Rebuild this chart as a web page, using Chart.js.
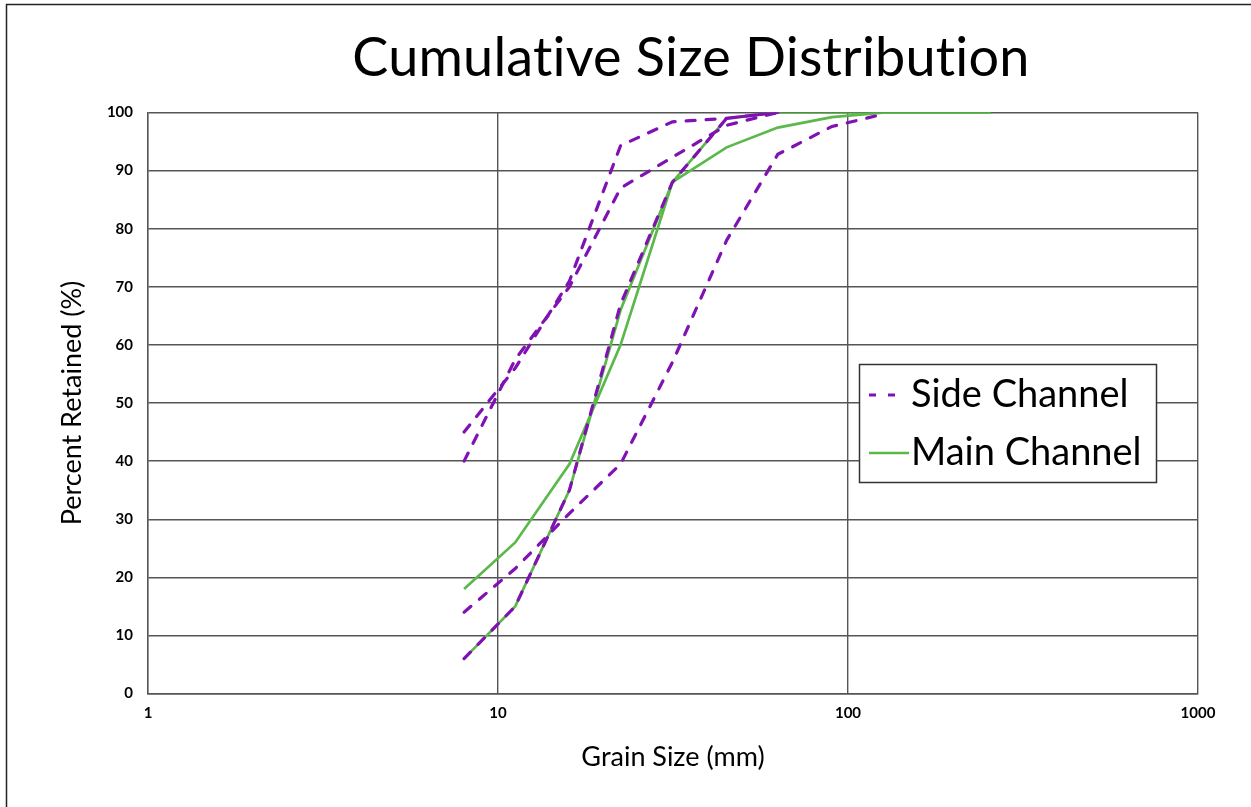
<!DOCTYPE html>
<html>
<head>
<meta charset="utf-8">
<script src="https://cdn.jsdelivr.net/npm/chart.js@4.4.1/dist/chart.umd.min.js"></script>
<style>
  html, body { margin: 0; padding: 0; background: #fff; }
  canvas { display: block; }
</style>
</head>
<body>
<canvas id="chart" width="1251" height="807"></canvas>
<script>
// grain sizes (mm) of the sieve classes
const grainSizes = [8, 11.2, 16, 22.4, 31.5, 45, 63, 90, 128, 180, 256];

// percent retained, side channel samples
const sideA = [45, 56, 71, 94.3, 98.4, 99, 100];
const sideB = [40, 57.5, 70, 87, 92.3, 97.8, 100];
const sideC = [14, 21.5, 31, 39.5, 57, 78, 92.8, 97.6, 99.8];
const sideD = [6, 15, 35, 67, 88, 99, 100];

// percent retained, main channel samples
const mainE = [6, 15, 35, 66, 88, 99, 100, 100, 100, 100, 100];
const mainF = [18, 26, 39.5, 60, 88, 94, 97.4, 99.2, 100, 100, 100];

const xTicks = [1, 10, 100, 1000];
const yTicks = [0, 10, 20, 30, 40, 50, 60, 70, 80, 90, 100];

const chartTitle = "Cumulative Size Distribution";

const SIDE_COLOR = "#8012b3";
const MAIN_COLOR = "#5bb94b";
const GRID_COLOR = "#555";
const FONT = "Lato, 'Open Sans', sans-serif";

const toPoints = (values) => values.map((v, i) => ({ x: grainSizes[i], y: v }));

const sideStyle = {
    borderColor: SIDE_COLOR,
    borderWidth: 3.2,
    borderDash: [9, 11],
    borderCapStyle: "round",
    pointRadius: 0,
    tension: 0,
    fill: false,
};
const mainStyle = {
    borderColor: MAIN_COLOR,
    borderWidth: 2.7,
    pointRadius: 0,
    tension: 0,
    fill: false,
};

const datasets = [
    { label: "Side Channel", data: toPoints(sideA), ...sideStyle },
    { label: "Side Channel", data: toPoints(sideB), ...sideStyle },
    { label: "Side Channel", data: toPoints(sideC), ...sideStyle },
    { label: "Side Channel", data: toPoints(sideD), ...sideStyle },
    { label: "Main Channel", data: toPoints(mainE), ...mainStyle },
    { label: "Main Channel", data: toPoints(mainF), ...mainStyle },
];

// white page, the frame on the left/top edges, and the title (centred over the plot, not the page)
const framePlugin = {
    id: "frame",
    beforeDraw(chart) {
        const ctx = chart.ctx;
        ctx.save();
        ctx.fillStyle = "#fff";
        ctx.fillRect(0, 0, chart.width, chart.height);
        ctx.strokeStyle = "#222";
        ctx.lineWidth = 1.5;
        ctx.beginPath();
        ctx.moveTo(6.5, chart.height + 5);
        ctx.lineTo(6.5, 4.5);
        ctx.lineTo(chart.width + 5, 4.5);
        ctx.stroke();
        ctx.restore();
    },
    afterDraw(chart) {
        const ctx = chart.ctx;
        ctx.save();
        ctx.fillStyle = "#000";
        ctx.font = "54px " + FONT;
        ctx.letterSpacing = "0.2px"; // also stops Lato's "ti" ligature
        ctx.textAlign = "center";
        ctx.textBaseline = "middle";
        ctx.fillText(chartTitle, 691, 59);
        ctx.restore();
    },
};

// boxed legend inside the plot, one entry per channel
const boxLegend = {
    id: "boxLegend",
    afterDraw(chart) {
        const ctx = chart.ctx;
        const entries = [
            { text: datasets[0].label, color: SIDE_COLOR, dash: [7, 12], width: 3, y: 395 },
            { text: datasets[4].label, color: MAIN_COLOR, dash: [], width: 2.6, y: 453 },
        ];
        ctx.save();
        ctx.fillStyle = "#fff";
        ctx.fillRect(859, 364, 298, 119);
        ctx.strokeStyle = "#333";
        ctx.lineWidth = 1.5;
        ctx.strokeRect(859.5, 364.5, 297, 118);
        entries.forEach((e) => {
            ctx.strokeStyle = e.color;
            ctx.lineWidth = e.width;
            ctx.setLineDash(e.dash);
            ctx.beginPath();
            ctx.moveTo(869, e.y);
            ctx.lineTo(e.dash.length ? 903 : 909, e.y);
            ctx.stroke();
            ctx.setLineDash([]);
            ctx.fillStyle = "#000";
            ctx.font = "38px " + FONT;
            ctx.textBaseline = "middle";
            ctx.textAlign = "left";
            ctx.fillText(e.text, 911, e.y);
        });
        ctx.restore();
    },
};

new Chart(document.getElementById("chart").getContext("2d"), {
    type: "line",
    data: { datasets },
    plugins: [framePlugin, boxLegend],
    options: {
        responsive: false,
        animation: false,
        layout: { padding: { left: 0, right: 53, top: 112.5, bottom: 0 } },
        plugins: {
            legend: { display: false },
            tooltip: { enabled: false },
            title: { display: false },
        },
        scales: {
            x: {
                type: "logarithmic",
                min: 1,
                max: 1000,
                afterBuildTicks: (scale) => {
                    scale.ticks = xTicks.map((v) => ({ value: v }));
                },
                afterFit: (scale) => {
                    scale.height = 113.5;
                },
                ticks: {
                    color: "#000",
                    font: { family: FONT, size: 15, weight: "bold" },
                    padding: 11,
                    maxRotation: 0,
                    autoSkip: false,
                    callback: (v) => String(v),
                },
                grid: { color: GRID_COLOR, lineWidth: 1.4, drawTicks: false },
                border: { color: GRID_COLOR, width: 1.4 },
                title: {
                    display: true,
                    text: "Grain Size (mm)",
                    color: "#000",
                    font: { family: FONT, size: 27, lineHeight: 1.2 },
                    padding: { top: 0, bottom: 34 },
                },
            },
            y: {
                min: 0,
                max: 100,
                afterBuildTicks: (scale) => {
                    scale.ticks = yTicks.map((v) => ({ value: v }));
                },
                afterFit: (scale) => {
                    scale.width = 148;
                },
                ticks: {
                    color: "#000",
                    font: { family: FONT, size: 15, weight: "bold" },
                    padding: 15,
                },
                grid: { color: GRID_COLOR, lineWidth: 1.4, drawTicks: false },
                border: { color: GRID_COLOR, width: 1.4 },
                title: {
                    display: true,
                    text: "Percent Retained (%)",
                    color: "#000",
                    font: { family: FONT, size: 27, lineHeight: 1.2 },
                    padding: { top: 55.8, bottom: 0 },
                },
            },
        },
    },
});
</script>
</body>
</html>
